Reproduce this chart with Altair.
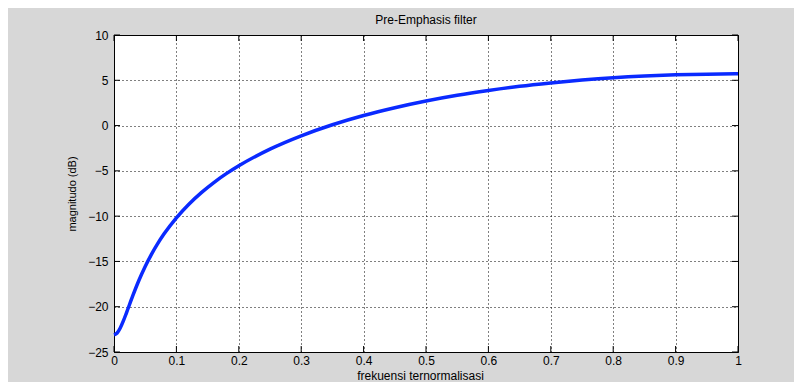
import altair as alt
import pandas as pd

# normalised frequency (x) and magnitude in dB (y)
freq = [0.0, 0.005, 0.01, 0.015, 0.02, 0.03, 0.04, 0.05, 0.06, 0.07, 0.08,
        0.10, 0.12, 0.14, 0.16, 0.18, 0.20, 0.25, 0.30, 0.35, 0.40, 0.45,
        0.50, 0.55, 0.60, 0.65, 0.70, 0.75, 0.80, 0.85, 0.90, 0.95, 1.0]
mag_db = [-23.10, -22.90, -22.35, -21.57, -20.67, -18.81, -17.08, -15.56,
          -14.22, -13.04, -11.98, -10.18, -8.68, -7.40, -6.29, -5.31, -4.44,
          -2.60, -1.13, 0.09, 1.11, 1.97, 2.71, 3.34, 3.87, 4.33, 4.70, 5.02,
          5.28, 5.47, 5.60, 5.68, 5.71]

x_ticks = [0, 0.1, 0.2, 0.3, 0.4, 0.5, 0.6, 0.7, 0.8, 0.9, 1]
y_ticks = [-25, -20, -15, -10, -5, 0, 5, 10]

W, H = 624, 317
FONT = "Liberation Sans"

df = pd.DataFrame({"f": freq, "dB": mag_db})
xt = pd.DataFrame({"f": x_ticks})
yt = pd.DataFrame({"dB": y_ticks})

xs = alt.Scale(domain=[0, 1], nice=False, zero=False)
ys = alt.Scale(domain=[-25, 10], nice=False, zero=False)

x_axis = alt.Axis(
    values=x_ticks, format="~g", grid=True, gridDash=[1, 3],
    gridColor="#000000", gridOpacity=1, domain=False, ticks=False,
    labelFlush=False, labelOverlap=False,
    labelPadding=3, labelFontSize=12, labelColor="#000000",
    title="frekuensi ternormalisasi", titleFontSize=12,
    titleFontWeight="normal", titleColor="#000000",
    titleX=306, titleY=23, titleBaseline="middle", titleAlign="center")
y_axis = alt.Axis(
    values=y_ticks, grid=True, gridDash=[1, 3], gridColor="#000000",
    gridOpacity=1, domain=False, ticks=False, labelPadding=6,
    labelFlush=False, labelOverlap=False,
    labelFontSize=12, labelColor="#000000",
    title="magnitudo (dB)", titleFontSize=11, titleFontWeight="normal",
    titleColor="#000000", titleAngle=270, titleX=-42, titleY=H / 2,
    titleBaseline="middle", titleAlign="center")

line = alt.Chart(df).mark_line(
    color="#0a2aff", strokeWidth=3.5, interpolate="monotone"
).encode(
    x=alt.X("f:Q", scale=xs, axis=x_axis),
    y=alt.Y("dB:Q", scale=ys, axis=y_axis),
)

tick_len = 6
x_top = alt.Chart(xt).mark_rule(color="black", strokeWidth=1).encode(
    x=alt.X("f:Q", scale=xs, axis=x_axis), y=alt.value(0), y2=alt.value(tick_len))
x_bot = alt.Chart(xt).mark_rule(color="black", strokeWidth=1).encode(
    x=alt.X("f:Q", scale=xs, axis=x_axis), y=alt.value(H - tick_len), y2=alt.value(H))
y_left = alt.Chart(yt).mark_rule(color="black", strokeWidth=1).encode(
    y=alt.Y("dB:Q", scale=ys, axis=y_axis), x=alt.value(0), x2=alt.value(tick_len))
y_right = alt.Chart(yt).mark_rule(color="black", strokeWidth=1).encode(
    y=alt.Y("dB:Q", scale=ys, axis=y_axis), x=alt.value(W - tick_len), x2=alt.value(W))

chart = alt.layer(x_top, x_bot, y_left, y_right, line).properties(
    width=W, height=H,
    autosize=alt.AutoSizeParams(type="none"),
    padding={"left": 106, "top": 27, "right": 56, "bottom": 30},
    background="#d7d7d7",
    title=alt.Title("Pre-Emphasis filter", fontSize=12, font=FONT,
                    fontWeight="normal", color="#000000", offset=2),
).configure_view(
    stroke="#000000", strokeWidth=1, fill="white"
).configure_axis(
    labelFont=FONT, titleFont=FONT
)

chart.save("out.html", embed_options={"renderer": "svg", "actions": False})
